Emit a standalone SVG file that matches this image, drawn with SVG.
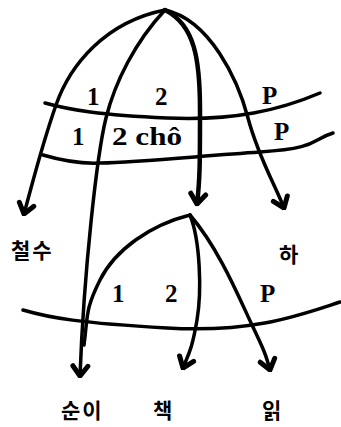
<svg xmlns="http://www.w3.org/2000/svg" width="341" height="427" viewBox="0 0 341 427">
<style>
.c{fill:none;stroke:#000;stroke-width:3.5;stroke-linecap:round;stroke-linejoin:round}
.a{marker-end:url(#ah)}
.n{font-family:"Liberation Serif",serif;font-size:25px;font-weight:bold;fill:#000}
.k{font-family:"Noto Sans CJK KR",sans-serif;font-size:21px;font-weight:bold;fill:#000;letter-spacing:2px}
</style>
<defs>
<marker id="ah" markerUnits="userSpaceOnUse" viewBox="-14 -11 16 22" refX="0" refY="0" markerWidth="16" markerHeight="22" orient="auto">
<path d="M-10,-7.5 L0,0 L-10,7.5" fill="none" stroke="#000" stroke-width="5" stroke-linecap="round" stroke-linejoin="miter"/>
</marker>
</defs>
<rect width="341" height="427" fill="#fff"/>
<g id="connectors">
<path class="c a" d="M165,10 C105,22 70,65 56,105 S36,170 24,214"/>
<path class="c a" d="M165,10 C135,42 115,82 106,118 S84,270 80,376"/>
<path class="c a" d="M165,10 C195,25 200,60 200,110 S200,180 197,204" style="stroke-width:4.5"/>
<path class="c a" d="M165,10 C210,20 238,80 248,118 S275,185 284,208"/>
<path class="c" d="M45,103 C70,110 100,115 167,118 S280,110 320,93"/>
<path class="c" d="M43,155 C60,160 80,164 100,163 C140,162 200,156 260,152 S310,140 333,133"/>
<path class="c" d="M190,215 C150,225 115,250 100,280 S88,315 84,345"/>
<path class="c a" d="M190,215 C200,240 202,290 197,320 S188,355 183,368"/>
<path class="c a" d="M190,215 C220,250 240,300 252,325 S266,355 270,370"/>
<path class="c" d="M23,310 C50,318 80,323 167,328 S300,315 340,302"/>
</g>
<g id="top-labels">
<text class="n" x="87" y="105">1</text>
<text class="n" x="155" y="105">2</text>
<text class="n" x="262" y="104">P</text>
<text class="n" x="72" y="145">1</text>
<text class="n" x="112" y="145" textLength="70" lengthAdjust="spacingAndGlyphs">2 chô</text>
<text class="n" x="274" y="140">P</text>
</g>
<g id="bottom-labels">
<text class="n" x="112" y="302">1</text>
<text class="n" x="165" y="302">2</text>
<text class="n" x="260" y="302">P</text>
</g>
<g id="n-cheolsu"><text class="k" x="11" y="258">철수</text></g>
<g id="n-ha"><text class="k" x="279" y="262">하</text></g>
<g id="n-suni"><text class="k" x="61" y="418">순이</text></g>
<g id="n-chaek"><text class="k" x="153" y="418">책</text></g>
<g id="n-ilk"><text class="k" x="262" y="418">읽</text></g>
</svg>
